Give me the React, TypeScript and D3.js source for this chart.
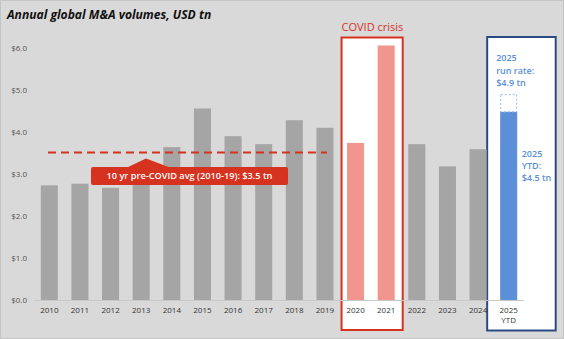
import React from "react";
import * as d3 from "d3";

const years = ["2010","2011","2012","2013","2014","2015","2016","2017","2018","2019","2020","2021","2022","2023","2024","2025"];
const volumes = [2.73, 2.77, 2.67, 2.95, 3.64, 4.56, 3.90, 3.71, 4.28, 4.10, 3.74, 6.06, 3.71, 3.18, 3.59, 4.48];
const covidYears = ["2020", "2021"];
const ytdYear = "2025";
const runRate = 4.89;
const preCovidAvg = 3.51;
const yTicks = [0, 1, 2, 3, 4, 5, 6];

const W = 564, H = 339;
const FONT = "'Open Sans', 'Noto Sans', sans-serif";
const GRAY = "#a5a5a5";
const SALMON = "#f0968f";
const BLUE = "#5b8fd7";
const RED = "#d5331f";
const NAVY = "#2c4a80";

export default function App() {
  const x = d3.scaleBand<string>().domain(years).range([34, 524]).paddingInner(0.444).paddingOuter(0.222);
  const y = d3.scaleLinear().domain([0, 6]).range([300, 48]);
  const bw = x.bandwidth();

  const redL = (x("2020") as number) - 5.5;
  const redR = (x("2021") as number) + bw + 8;
  const blueL = (x(ytdYear) as number) - 13;
  const blueR = (x(ytdYear) as number) + bw + 38.5;

  const avgY = y(preCovidAvg);
  const calloutX0 = 91, calloutX1 = 288, calloutY0 = 167, calloutY1 = 185;
  const apexX = 146;

  const xYtd = x(ytdYear) as number;

  return (
    <svg width={W} height={H} style={{ position: "absolute", left: 0, top: 0, display: "block" }} fontFamily={FONT}>
      <rect x={0.5} y={0.5} width={W - 1} height={H - 1} fill="#d9d9d9" stroke="#c4c4c4" />
      <text x={7} y={19} fontSize={12.1} fontWeight={700} fontStyle="italic" fill="#111">
        Annual global M&amp;A volumes, USD tn
      </text>

      {/* highlight boxes */}
      <rect x={redL} y={37.5} width={redR - redL} height={330 - 37.5} fill="#fff" stroke={RED} strokeWidth={2} />
      <text x={redL} y={31} fontSize={11} fontWeight={500} fill={RED}>COVID crisis</text>
      <rect x={blueL} y={37} width={blueR - blueL} height={330.5 - 37} fill="#fff" stroke={NAVY} strokeWidth={2} />

      {/* y ticks */}
      {yTicks.map((t) => (
        <text key={t} x={27} y={y(t)} dy="0.35em" textAnchor="end" fontSize={8} fill="#555">
          {d3.format("$.1f")(t)}
        </text>
      ))}

      {/* bars */}
      {years.map((yr, i) => {
        const fill = covidYears.includes(yr) ? SALMON : yr === ytdYear ? BLUE : GRAY;
        return (
          <rect key={yr} x={x(yr)} y={y(volumes[i])} width={bw} height={y(0) - y(volumes[i])} fill={fill} />
        );
      })}

      {/* run-rate dashed box */}
      <rect x={xYtd + 0.5} y={y(runRate)} width={bw - 1} height={y(volumes[years.indexOf(ytdYear)]) - y(runRate)}
        fill="none" stroke="#9dbbe6" strokeWidth={1} strokeDasharray="2,2" />

      {/* axis baseline */}
      <line x1={34} x2={524} y1={300.5} y2={300.5} stroke="#c8c8c8" strokeWidth={1} />

      {/* x labels */}
      {years.map((yr) => (
        <text key={yr} x={(x(yr) as number) + bw / 2} y={313} textAnchor="middle" fontSize={8} fill="#333">
          {yr}
        </text>
      ))}
      <text x={xYtd + bw / 2} y={323} textAnchor="middle" fontSize={8} fill="#333">YTD</text>

      {/* pre-COVID average */}
      <line x1={48} x2={327} y1={avgY} y2={avgY} stroke={RED} strokeWidth={2} strokeDasharray="8,5" />
      <path d={`M${apexX - 19},${calloutY0 + 0.5} L${apexX},${calloutY0 - 8.5} L${apexX + 24},${calloutY0 + 0.5} Z`} fill={RED} />
      <rect x={calloutX0} y={calloutY0} width={calloutX1 - calloutX0} height={calloutY1 - calloutY0} rx={2} fill={RED} />
      <text x={(calloutX0 + calloutX1) / 2} y={(calloutY0 + calloutY1) / 2} dy="0.35em" textAnchor="middle" fontSize={9.2} fontWeight={600} fill="#fff">
        10 yr pre-COVID avg (2010-19): $3.5 tn
      </text>

      {/* 2025 annotations */}
      <text x={xYtd - 4} fontSize={9} fontWeight={600} fill={BLUE}>
        <tspan x={xYtd - 4} y={61}>2025</tspan>
        <tspan x={xYtd - 4} y={73.5}>run rate:</tspan>
        <tspan x={xYtd - 4} y={86}>$4.9 tn</tspan>
      </text>
      <text fontSize={9} fontWeight={600} fill={BLUE}>
        <tspan x={xYtd + bw + 4.5} y={157}>2025</tspan>
        <tspan x={xYtd + bw + 4.5} y={169}>YTD:</tspan>
        <tspan x={xYtd + bw + 4.5} y={181}>$4.5 tn</tspan>
      </text>
    </svg>
  );
}
